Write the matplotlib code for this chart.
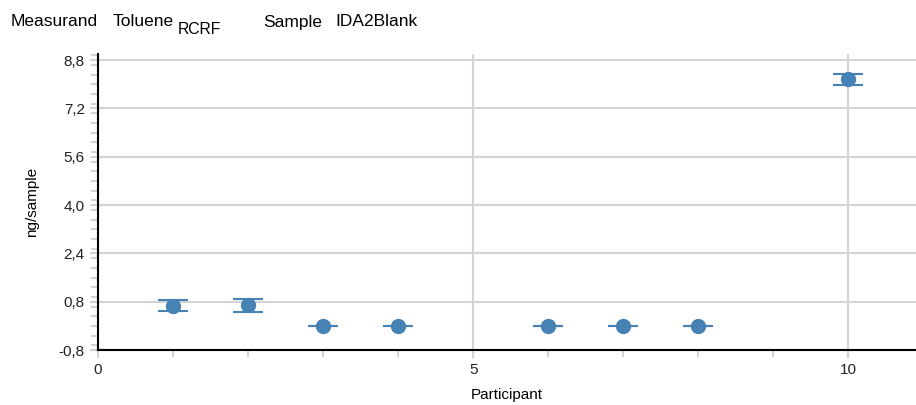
import matplotlib
matplotlib.use("Agg")
import matplotlib.pyplot as plt
from matplotlib.ticker import MultipleLocator, FuncFormatter, FixedLocator

participants = [1, 2, 3, 4, 6, 7, 8, 10]
values = [0.67, 0.68, 0.0, 0.0, 0.0, 0.0, 0.0, 8.17]
errors = [0.17, 0.21, 0.0, 0.0, 0.0, 0.0, 0.0, 0.18]
y_ticks = [-0.8, 0.8, 2.4, 4.0, 5.6, 7.2, 8.8]
x_ticks = [0, 5, 10]

plt.rcParams['font.family'] = ['Liberation Sans', 'DejaVu Sans']

W, H = 916, 405
fig = plt.figure(figsize=(W/100, H/100), dpi=100)
ax = fig.add_axes([98/W, 1-350/H, 1-98/W, (350-54)/H])

color = '#4682b4'
grid_c = '#d3d3d3'

ax.errorbar(participants, values, yerr=errors, fmt='o', color=color,
            markersize=10, elinewidth=1.5, capsize=10.8, capthick=1.5, zorder=3)

ax.set_xlim(0, 10.9)
ax.set_ylim(-0.8, 9.0)

ax.yaxis.set_major_locator(FixedLocator(y_ticks))
ax.yaxis.set_minor_locator(MultipleLocator(0.32))
ax.xaxis.set_major_locator(FixedLocator(x_ticks))
ax.xaxis.set_minor_locator(MultipleLocator(1))
ax.yaxis.set_major_formatter(FuncFormatter(lambda v, p: f"{v:.1f}".replace('.', ',')))

ax.grid(True, which='major', color=grid_c, linewidth=1.5, zorder=0)
ax.set_axisbelow(True)

for s in ['top', 'right']:
    ax.spines[s].set_visible(False)
for s in ['left', 'bottom']:
    ax.spines[s].set_color('black')
    ax.spines[s].set_linewidth(1.5)

ax.tick_params(axis='both', which='major', color=grid_c, length=6, width=1.5,
               labelsize=11, labelcolor='#222222')
ax.tick_params(axis='both', which='minor', color=grid_c, length=5, width=1.5)

ax.set_ylabel('ng/sample', fontsize=11, labelpad=14)
ax.set_xlabel('Participant', fontsize=11, labelpad=8)

def t(x, y, s, fs=12.5):
    fig.text(x/W, 1-y/H, s, fontsize=fs, va='center', ha='left')
t(11, 22, 'Measurand')
t(113, 22, 'Toluene')
t(178, 30, 'RCRF', 11.3)
t(263, 22, 'Sample')
t(335, 22, 'IDA2Blank')

fig.savefig('out.png', dpi=100)
